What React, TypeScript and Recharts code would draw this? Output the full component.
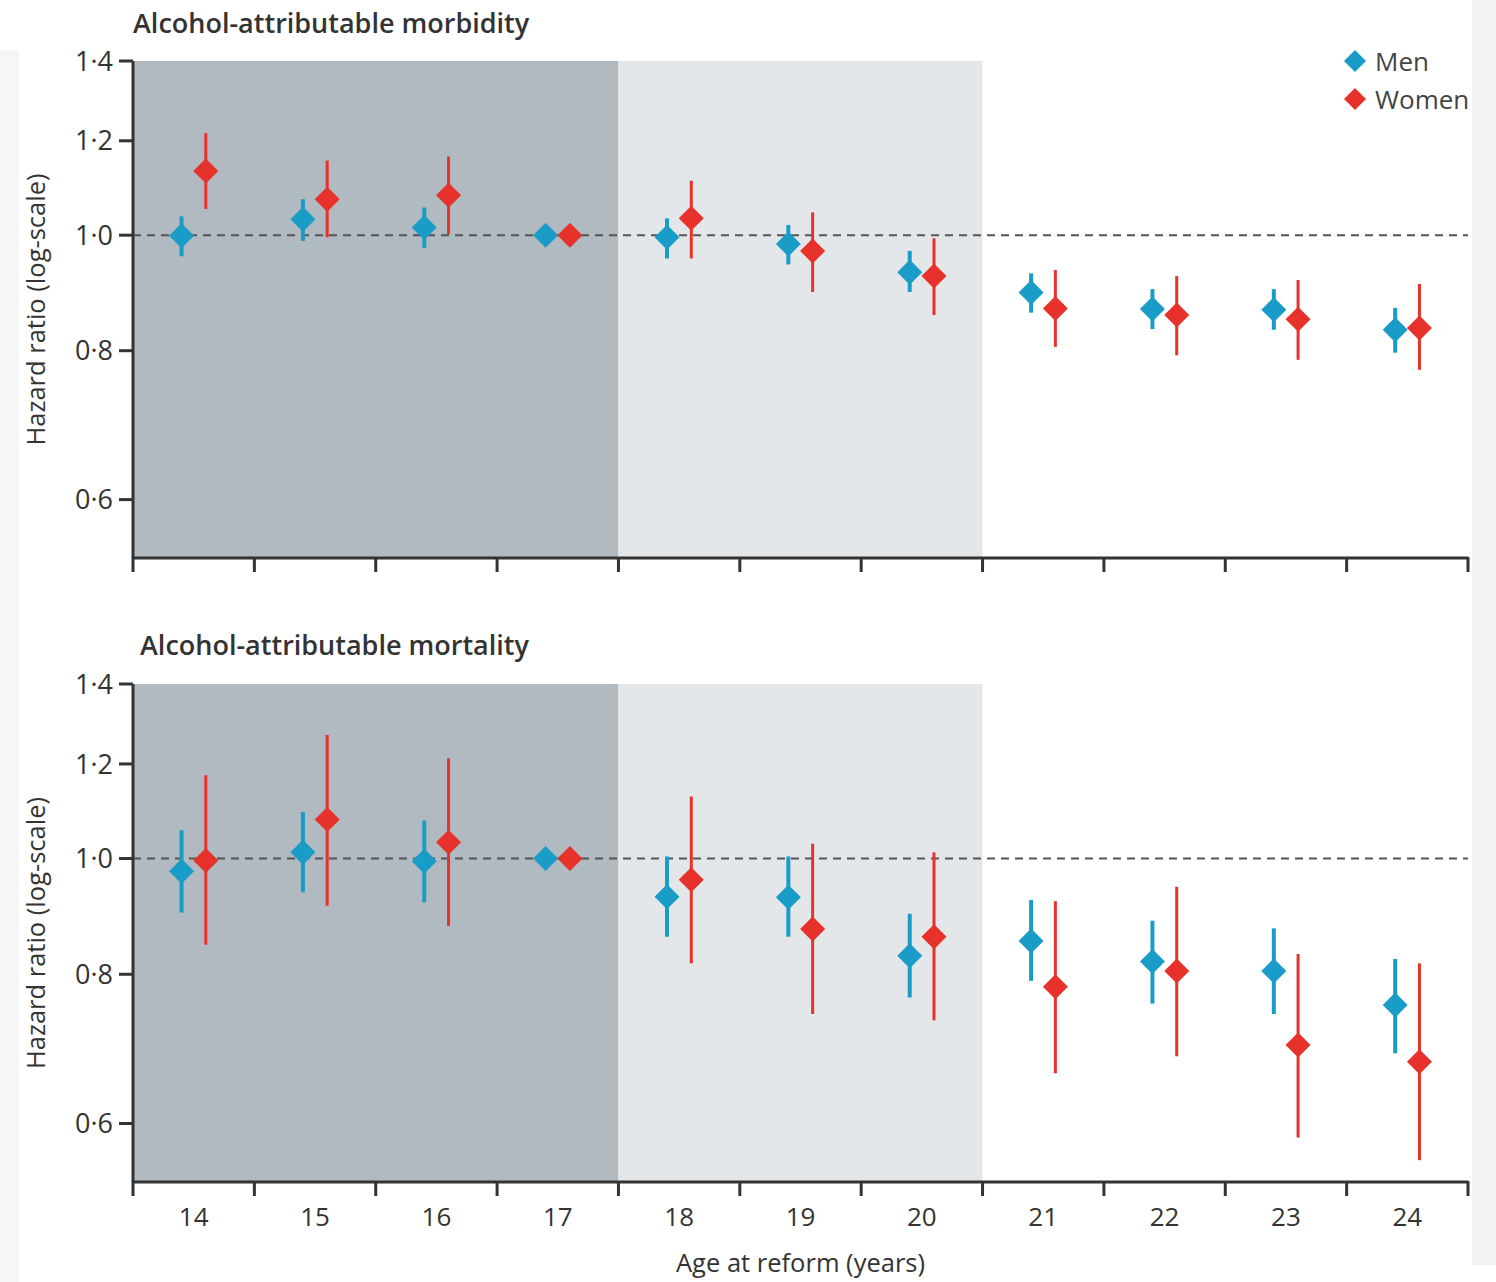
import React from 'react';
import {
  ScatterChart,
  Scatter,
  XAxis,
  YAxis,
  ErrorBar,
  ReferenceArea,
  ReferenceLine,
  Legend,
} from 'recharts';

// ---- data ----
const ages = [14, 15, 16, 17, 18, 19, 20, 21, 22, 23, 24];
const boundaryTicks = [13.5, 14.5, 15.5, 16.5, 17.5, 18.5, 19.5, 20.5, 21.5, 22.5, 23.5, 24.5];
const yTicks = [0.6, 0.8, 1.0, 1.2, 1.4];

// Alcohol-attributable morbidity
const morbMen = [0.999, 1.031, 1.015, 1.0, 0.996, 0.983, 0.931, 0.895, 0.867, 0.866, 0.833];
const morbMenLow = [0.96, 0.989, 0.976, 1.0, 0.956, 0.945, 0.896, 0.861, 0.834, 0.833, 0.797];
const morbMenHigh = [1.037, 1.072, 1.055, 1.0, 1.033, 1.02, 0.97, 0.929, 0.901, 0.901, 0.869];
const morbWomen = [1.132, 1.072, 1.08, 1.0, 1.033, 0.97, 0.924, 0.868, 0.857, 0.85, 0.836];
const morbWomenLow = [1.052, 0.996, 1.002, 1.0, 0.956, 0.896, 0.857, 0.806, 0.793, 0.786, 0.771];
const morbWomenHigh = [1.218, 1.155, 1.164, 1.0, 1.111, 1.045, 0.994, 0.935, 0.924, 0.917, 0.91];

// Alcohol-attributable mortality
const mortMen = [0.976, 1.012, 0.995, 1.0, 0.929, 0.928, 0.829, 0.853, 0.82, 0.805, 0.754];
const mortMenLow = [0.901, 0.937, 0.919, 1.0, 0.86, 0.86, 0.765, 0.79, 0.756, 0.741, 0.687];
const mortMenHigh = [1.056, 1.094, 1.076, 1.0, 1.004, 1.004, 0.899, 0.923, 0.887, 0.874, 0.824];
const mortWomen = [0.996, 1.078, 1.032, 1.0, 0.96, 0.873, 0.86, 0.781, 0.805, 0.698, 0.676];
const mortWomenLow = [0.847, 0.913, 0.878, 1.0, 0.817, 0.741, 0.732, 0.661, 0.683, 0.584, 0.559];
const mortWomenHigh = [1.174, 1.269, 1.213, 1.0, 1.127, 1.029, 1.012, 0.921, 0.947, 0.832, 0.817];

const DODGE = 0.1;
const xTicks = [...boundaryTicks, ...ages].sort((a, b) => a - b);

const build = (hr: number[], lo: number[], hi: number[], shift: number) =>
  ages.map((a, i) => ({ x: a + shift, y: hr[i], err: [hr[i] - lo[i], hi[i] - hr[i]] }));

// ---- style ----
const MEN = '#1a9cc8';
const WOMEN = '#e6322a';
const AXIS = '#333333';
const FONT = '"Open Sans", "DejaVu Sans", sans-serif';

const diamond = (color: string, r: number) => (props: any) => {
  const { cx, cy } = props;
  if (cx == null || cy == null) return <g />;
  return (
    <path
      d={`M${cx},${cy - r}L${cx + r},${cy}L${cx},${cy + r}L${cx - r},${cy}Z`}
      fill={color}
    />
  );
};

const fmt = (v: number) => v.toFixed(1).replace('.', '\u00B7');

const makeXTick = (showText: boolean) => (props: any) => {
  const { x, y, payload } = props;
  const v = payload.value as number;
  const isBoundary = Math.abs(v - Math.round(v)) > 0.25;
  if (isBoundary) {
    return <line x1={x} x2={x} y1={y - 1} y2={y + 14} stroke={AXIS} strokeWidth={3} />;
  }
  if (!showText) return <g />;
  return (
    <text
      x={x}
      y={y + 26}
      dy="0.71em"
      textAnchor="middle"
      fill={AXIS}
      fontSize={26}
      fontFamily={FONT}
    >
      {v}
    </text>
  );
};

const YLabel = (props: any) => {
  const vb = props.viewBox || {};
  const x = vb.x - 23;
  const y = vb.y + vb.height / 2;
  return (
    <text
      x={x}
      y={y}
      transform={`rotate(-90 ${x} ${y})`}
      textAnchor="middle"
      dominantBaseline="central"
      fill={AXIS}
      fontSize={25.5}
      fontFamily={FONT}
    >
      Hazard ratio (log-scale)
    </text>
  );
};

const LegendContent = (props: any) => {
  const { payload } = props;
  return (
    <div style={{ fontFamily: FONT, fontSize: 26, color: '#444' }}>
      {(payload || []).map((entry: any) => (
        <div key={entry.value} style={{ display: 'flex', alignItems: 'center', height: 38 }}>
          <svg width={24} height={24} style={{ marginRight: 8 }}>
            <path d="M12,1L23,12L12,23L1,12Z" fill={entry.color} />
          </svg>
          <span>{entry.value}</span>
        </div>
      ))}
    </div>
  );
};

type PanelProps = {
  men: any[];
  women: any[];
  height: number;
  marginTop: number;
  marginBottom: number;
  xAxisHeight: number;
  showLabels: boolean;
  showLegend: boolean;
};

const Panel = ({ men, women, height, marginTop, marginBottom, xAxisHeight, showLabels, showLegend }: PanelProps) => (
  <ScatterChart
    width={1496}
    height={height}
    margin={{ top: marginTop, right: 28, left: 58, bottom: marginBottom }}
  >
    <XAxis
      dataKey="x"
      type="number"
      domain={[13.5, 24.5]}
      allowDataOverflow
      ticks={xTicks}
      interval={0}
      tick={makeXTick(showLabels)}
      tickSize={0}
      tickMargin={0}
      tickLine={false}
      height={xAxisHeight}
      axisLine={{ stroke: AXIS, strokeWidth: 3 }}
      label={
        showLabels
          ? {
              value: 'Age at reform (years)',
              position: 'bottom',
              offset: 12,
              fill: AXIS,
              fontSize: 25.5,
              fontFamily: FONT,
            }
          : undefined
      }
    />
    <YAxis
      dataKey="y"
      type="number"
      scale="log"
      domain={[0.536, 1.4]}
      allowDataOverflow
      ticks={yTicks}
      tickFormatter={fmt}
      width={75}
      tickSize={14}
      tickMargin={6}
      axisLine={{ stroke: AXIS, strokeWidth: 3 }}
      tickLine={{ stroke: AXIS, strokeWidth: 3 }}
      tick={{ fill: AXIS, fontSize: 27, fontFamily: FONT }}
      label={<YLabel />}
    />
    <ReferenceArea x1={13.5} x2={17.5} fill="#b1b9c1" fillOpacity={1} stroke="none" />
    <ReferenceArea x1={17.5} x2={20.5} fill="#e4e7ea" fillOpacity={1} stroke="none" />
    <ReferenceLine y={1} stroke="#555" strokeWidth={2} strokeDasharray="8 6" />
    <Scatter
      name="Men"
      data={men}
      fill={MEN}
      shape={diamond(MEN, 12.5)}
      isAnimationActive={false}
    >
      <ErrorBar dataKey="err" direction="y" width={0} stroke={MEN} strokeWidth={4} />
    </Scatter>
    <Scatter
      name="Women"
      data={women}
      fill={WOMEN}
      shape={diamond(WOMEN, 12.5)}
      isAnimationActive={false}
    >
      <ErrorBar dataKey="err" direction="y" width={0} stroke={WOMEN} strokeWidth={3} />
    </Scatter>
    {showLegend && (
      <Legend
        layout="vertical"
        align="center"
        verticalAlign="middle"
        content={<LegendContent />}
        wrapperStyle={{ left: 1343, top: 42, width: 200, height: 80 }}
      />
    )}
  </ScatterChart>
);

export default function App() {
  const morbMenData = build(morbMen, morbMenLow, morbMenHigh, -DODGE);
  const morbWomenData = build(morbWomen, morbWomenLow, morbWomenHigh, DODGE);
  const mortMenData = build(mortMen, mortMenLow, mortMenHigh, -DODGE);
  const mortWomenData = build(mortWomen, mortWomenLow, mortWomenHigh, DODGE);

  const titleStyle: React.CSSProperties = {
    position: 'absolute',
    fontFamily: FONT,
    fontWeight: 600,
    fontSize: 27,
    lineHeight: '27px',
    color: '#333',
    whiteSpace: 'nowrap',
  };

  return (
    <div
      style={{
        position: 'absolute',
        left: 0,
        top: 0,
        width: 1496,
        height: 1282,
        background: '#fff',
        overflow: 'hidden',
      }}
    >
      <div style={{ position: 'absolute', left: 0, top: 0 }}>
        <Panel
          men={morbMenData}
          women={morbWomenData}
          height={620}
          marginTop={61}
          marginBottom={22}
          xAxisHeight={40}
          showLabels={false}
          showLegend={true}
        />
      </div>
      <div style={{ position: 'absolute', left: 0, top: 620 }}>
        <Panel
          men={mortMenData}
          women={mortWomenData}
          height={662}
          marginTop={64}
          marginBottom={40}
          xAxisHeight={60}
          showLabels={true}
          showLegend={false}
        />
      </div>
      <div style={{ ...titleStyle, left: 133, top: 9 }}>Alcohol-attributable morbidity</div>
      <div style={{ ...titleStyle, left: 140, top: 631 }}>Alcohol-attributable mortality</div>
      <div style={{ position: 'absolute', left: 1472, top: 0, width: 24, height: 1265, background: '#f2f2f2', zIndex: 5 }} />
      <div style={{ position: 'absolute', left: 0, top: 50, width: 19, height: 1232, background: '#f6f6f6', zIndex: 5 }} />
    </div>
  );
}
